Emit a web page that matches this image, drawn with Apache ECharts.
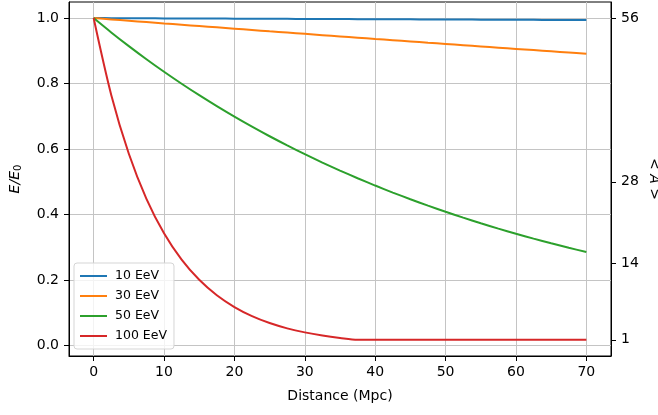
<!DOCTYPE html>
<html>
<head>
<meta charset="utf-8">
<script src="https://cdn.jsdelivr.net/npm/echarts@6/dist/echarts.min.js"></script>
<style>
html,body{margin:0;padding:0;background:#fff;}
#chart{width:658px;height:415px;}
</style>
</head>
<body>
<div id="chart"></div>
<script>
// Distance (Mpc)
const distance = [0,2.5,5,7.5,10,12.5,15,17.5,20,22.5,25,27.5,30,32.5,35,37.5,40,42.5,45,47.5,50,52.5,55,57.5,60,62.5,65,67.5,70];
// E/E0 values per primary energy
const e10 = [1.0000,0.9998,0.9996,0.9993,0.9991,0.9989,0.9987,0.9985,0.9983,0.9980,0.9978,0.9976,0.9974,0.9972,0.9970,0.9967,0.9965,0.9963,0.9961,0.9959,0.9957,0.9954,0.9952,0.9950,0.9948,0.9946,0.9944,0.9941,0.9939];
const e30 = [1.0000,0.9959,0.9918,0.9877,0.9836,0.9796,0.9756,0.9717,0.9676,0.9636,0.9596,0.9557,0.9518,0.9479,0.9440,0.9401,0.9362,0.9324,0.9286,0.9247,0.9209,0.9172,0.9134,0.9096,0.9059,0.9022,0.8985,0.8948,0.8912];
const e50 = [1.0000,0.9562,0.9144,0.8744,0.8361,0.7995,0.7645,0.7311,0.6991,0.6685,0.6392,0.6113,0.5845,0.5589,0.5345,0.5111,0.4887,0.4673,0.4469,0.4273,0.4086,0.3907,0.3736,0.3573,0.3416,0.3267,0.3124,0.2987,0.2856];
const e100 = [1.0000,0.7653,0.5857,0.4482,0.3430,0.2625,0.2009,0.1537,0.1177,0.0900,0.0689,0.0527,0.0404,0.0309,0.0236,0.0181,0.0179,0.0179,0.0179,0.0179,0.0179,0.0179,0.0179,0.0179,0.0179,0.0179,0.0179,0.0179,0.0179];
const seriesNames = ['10 EeV','30 EeV','50 EeV','100 EeV'];
const seriesColors = ['#1f77b4','#ff7f0e','#2ca02c','#d62728'];
// Tick labels
const xTicks = [0,10,20,30,40,50,60,70];
const yTicks = [0,0.2,0.4,0.6,0.8,1.0];
const rightTickPos = [1/56,0.25,0.5,1.0];
const rightTickLabels = ['1','14','28','56'];

const X_MIN = -3.5, X_MAX = 73.5, Y_MIN = -0.0317, Y_MAX = 1.0491;
const allData = [e10,e30,e50,e100];
const font = 'DejaVu Sans';

const chart = echarts.init(document.getElementById('chart'), null, {renderer:'canvas'});
chart.setOption({
  animation:false,
  backgroundColor:'#fff',
  grid:{left:69,right:47,top:2,bottom:59,show:true,borderColor:'#000',borderWidth:1,backgroundColor:'transparent',outerBoundsMode:'none',containLabel:false},
  legend:{
    orient:'vertical', left:74, top:263,
    data:seriesNames,
    icon:'rect', symbolKeepAspect:false,
    itemWidth:27, itemHeight:2, itemGap:6,
    padding:[6,7,6,6],
    backgroundColor:'rgba(255,255,255,0.8)',
    borderColor:'#d5d5d5', borderWidth:1, borderRadius:3,
    textStyle:{fontFamily:font,fontSize:12.5,color:'#000',padding:[0,0,0,3],lineHeight:14}
  },
  xAxis:{
    type:'value', min:X_MIN, max:X_MAX,
    name:'Distance (Mpc)', nameLocation:'middle', nameGap:33, nameMoveOverlap:false,
    nameTextStyle:{fontFamily:font,fontSize:14,color:'#000'},
    axisLine:{show:true,onZero:false,lineStyle:{color:'#000',width:1}},
    axisTick:{show:true,inside:false,length:5,lineStyle:{color:'#000'},customValues:xTicks},
    axisLabel:{fontFamily:font,fontSize:14,color:'#000',margin:9,customValues:xTicks,formatter:v=>String(v)},
    splitLine:{show:true,lineStyle:{color:'#c4c4c4',width:1}}
  },
  yAxis:[{
    type:'value', min:Y_MIN, max:Y_MAX, position:'left',
    name:'{i|E/E}{s|0}', nameLocation:'middle', nameGap:46, nameRotate:90, nameMoveOverlap:false,
    nameTextStyle:{rich:{i:{fontFamily:font,fontSize:14,fontStyle:'italic',color:'#000'},s:{fontFamily:font,fontSize:10,fontStyle:'normal',color:'#000',padding:[6,0,0,0]}}},
    axisLine:{show:true,onZero:false,lineStyle:{color:'#000',width:1}},
    axisTick:{show:true,inside:false,length:5,lineStyle:{color:'#000'},customValues:yTicks},
    axisLabel:{fontFamily:font,fontSize:14,color:'#000',margin:10,customValues:yTicks,formatter:v=>v.toFixed(1)},
    splitLine:{show:true,lineStyle:{color:'#c4c4c4',width:1}}
  },{
    type:'value', min:Y_MIN, max:Y_MAX, position:'right',
    name:'< A >', nameLocation:'middle', nameGap:36, nameRotate:-90, nameMoveOverlap:false,
    nameTextStyle:{fontFamily:font,fontSize:14,fontStyle:'italic',color:'#000'},
    axisLine:{show:true,onZero:false,lineStyle:{color:'#000',width:1}},
    axisTick:{show:true,inside:false,length:5,lineStyle:{color:'#000'},customValues:rightTickPos},
    axisLabel:{fontFamily:font,fontSize:14,color:'#000',margin:10,customValues:rightTickPos,
      formatter:v=>{let best=0;for(let i=0;i<rightTickPos.length;i++){if(Math.abs(rightTickPos[i]-v)<Math.abs(rightTickPos[best]-v))best=i;}return rightTickLabels[best];}},
    splitLine:{show:false}
  }],
  series:allData.map((arr,k)=>({
    name:seriesNames[k], type:'line', yAxisIndex:0,
    data:distance.map((d,i)=>[d,arr[i]]),
    showSymbol:false, symbol:'none', smooth:0.3,
    lineStyle:{color:seriesColors[k],width:2},
    itemStyle:{color:seriesColors[k]},
    z:2+k
  }))
});
</script>
</body>
</html>
